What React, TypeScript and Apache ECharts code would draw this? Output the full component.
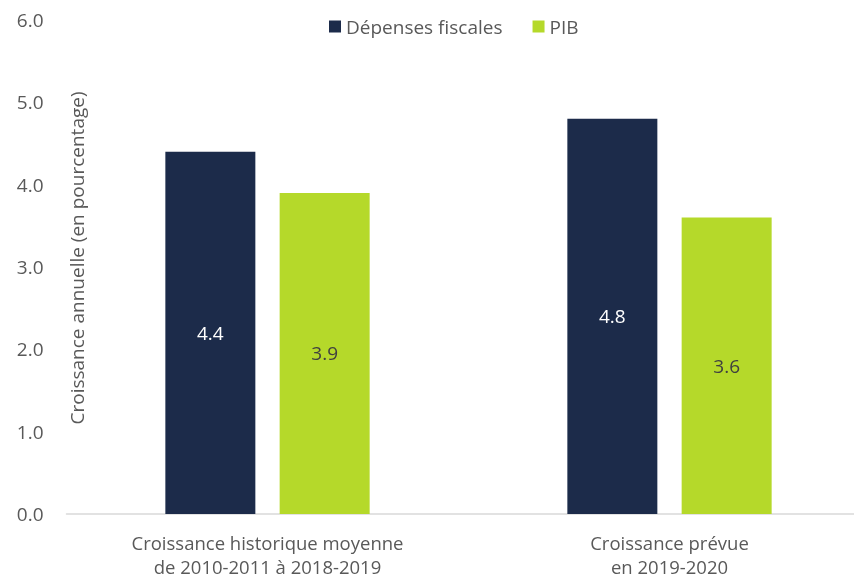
import React, { useEffect, useRef } from "react";
import * as echarts from "echarts";

const categories = [
  "Croissance historique moyenne\nde 2010-2011 à 2018-2019",
  "Croissance prévue\nen 2019-2020",
];
const seriesNames = ["Dépenses fiscales", "PIB"];
const depensesFiscales = [4.4, 4.8];
const pib = [3.9, 3.6];
const yAxisTitle = "Croissance annuelle (en pourcentage)";

const FONT = "'Open Sans', 'Noto Sans', sans-serif";
const TEXT = "#595959";

export default function App() {
  const ref = useRef<HTMLDivElement>(null);
  useEffect(() => {
    if (!ref.current) return;
    const chart = echarts.init(ref.current, null, { renderer: "svg" });
    chart.setOption({
      animation: false,
      textStyle: { fontFamily: FONT },
      legend: {
        left: 324,
        top: 12,
        itemWidth: 12,
        itemHeight: 12,
        itemGap: 30,
        icon: "rect",
        textStyle: { color: TEXT, fontSize: 19, fontFamily: FONT },
        data: seriesNames,
      },
      graphic: [
        {
          type: "text",
          x: 77,
          y: 258,
          rotation: Math.PI / 2,
          style: {
            text: yAxisTitle,
            fill: TEXT,
            font: `19px ${FONT}`,
            align: "center",
            verticalAlign: "middle",
          },
        },
      ],
      grid: {
        left: 66.5,
        right: -16.5,
        top: 20,
        bottom: 65,
        containLabel: false,
        outerBoundsMode: "none",
      },
      xAxis: {
        type: "category",
        data: categories,
        axisTick: { show: false },
        axisLine: { lineStyle: { color: "#D9D9D9", width: 1.5 } },
        axisLabel: {
          color: TEXT,
          fontSize: 18.5,
          lineHeight: 23.5,
          margin: 17,
          fontFamily: FONT,
        },
      },
      yAxis: {
        type: "value",
        min: 0,
        max: 6,
        interval: 1,
        axisLine: { show: false },
        axisTick: { show: false },
        splitLine: { show: false },
        axisLabel: {
          color: TEXT,
          fontSize: 19,
          margin: 23,
          fontFamily: FONT,
          formatter: (v: number) => v.toFixed(1),
        },
      },
      series: [
        {
          name: seriesNames[0],
          type: "bar",
          data: depensesFiscales,
          barWidth: 90,
          barGap: "27%",
          itemStyle: { color: "#1C2B4A" },
          label: {
            show: true,
            position: "inside",
            color: "#FFFFFF",
            fontSize: 19,
            fontFamily: FONT,
            formatter: (p: any) => p.value.toFixed(1),
          },
        },
        {
          name: seriesNames[1],
          type: "bar",
          data: pib,
          barWidth: 90,
          itemStyle: { color: "#B5D92A" },
          label: {
            show: true,
            position: "inside",
            color: "#404040",
            fontSize: 19,
            fontFamily: FONT,
            formatter: (p: any) => p.value.toFixed(1),
          },
        },
      ],
    });
    return () => chart.dispose();
  }, []);
  return (
    <div
      ref={ref}
      style={{ position: "fixed", left: 0, top: 0, width: 854, height: 579 }}
    />
  );
}
